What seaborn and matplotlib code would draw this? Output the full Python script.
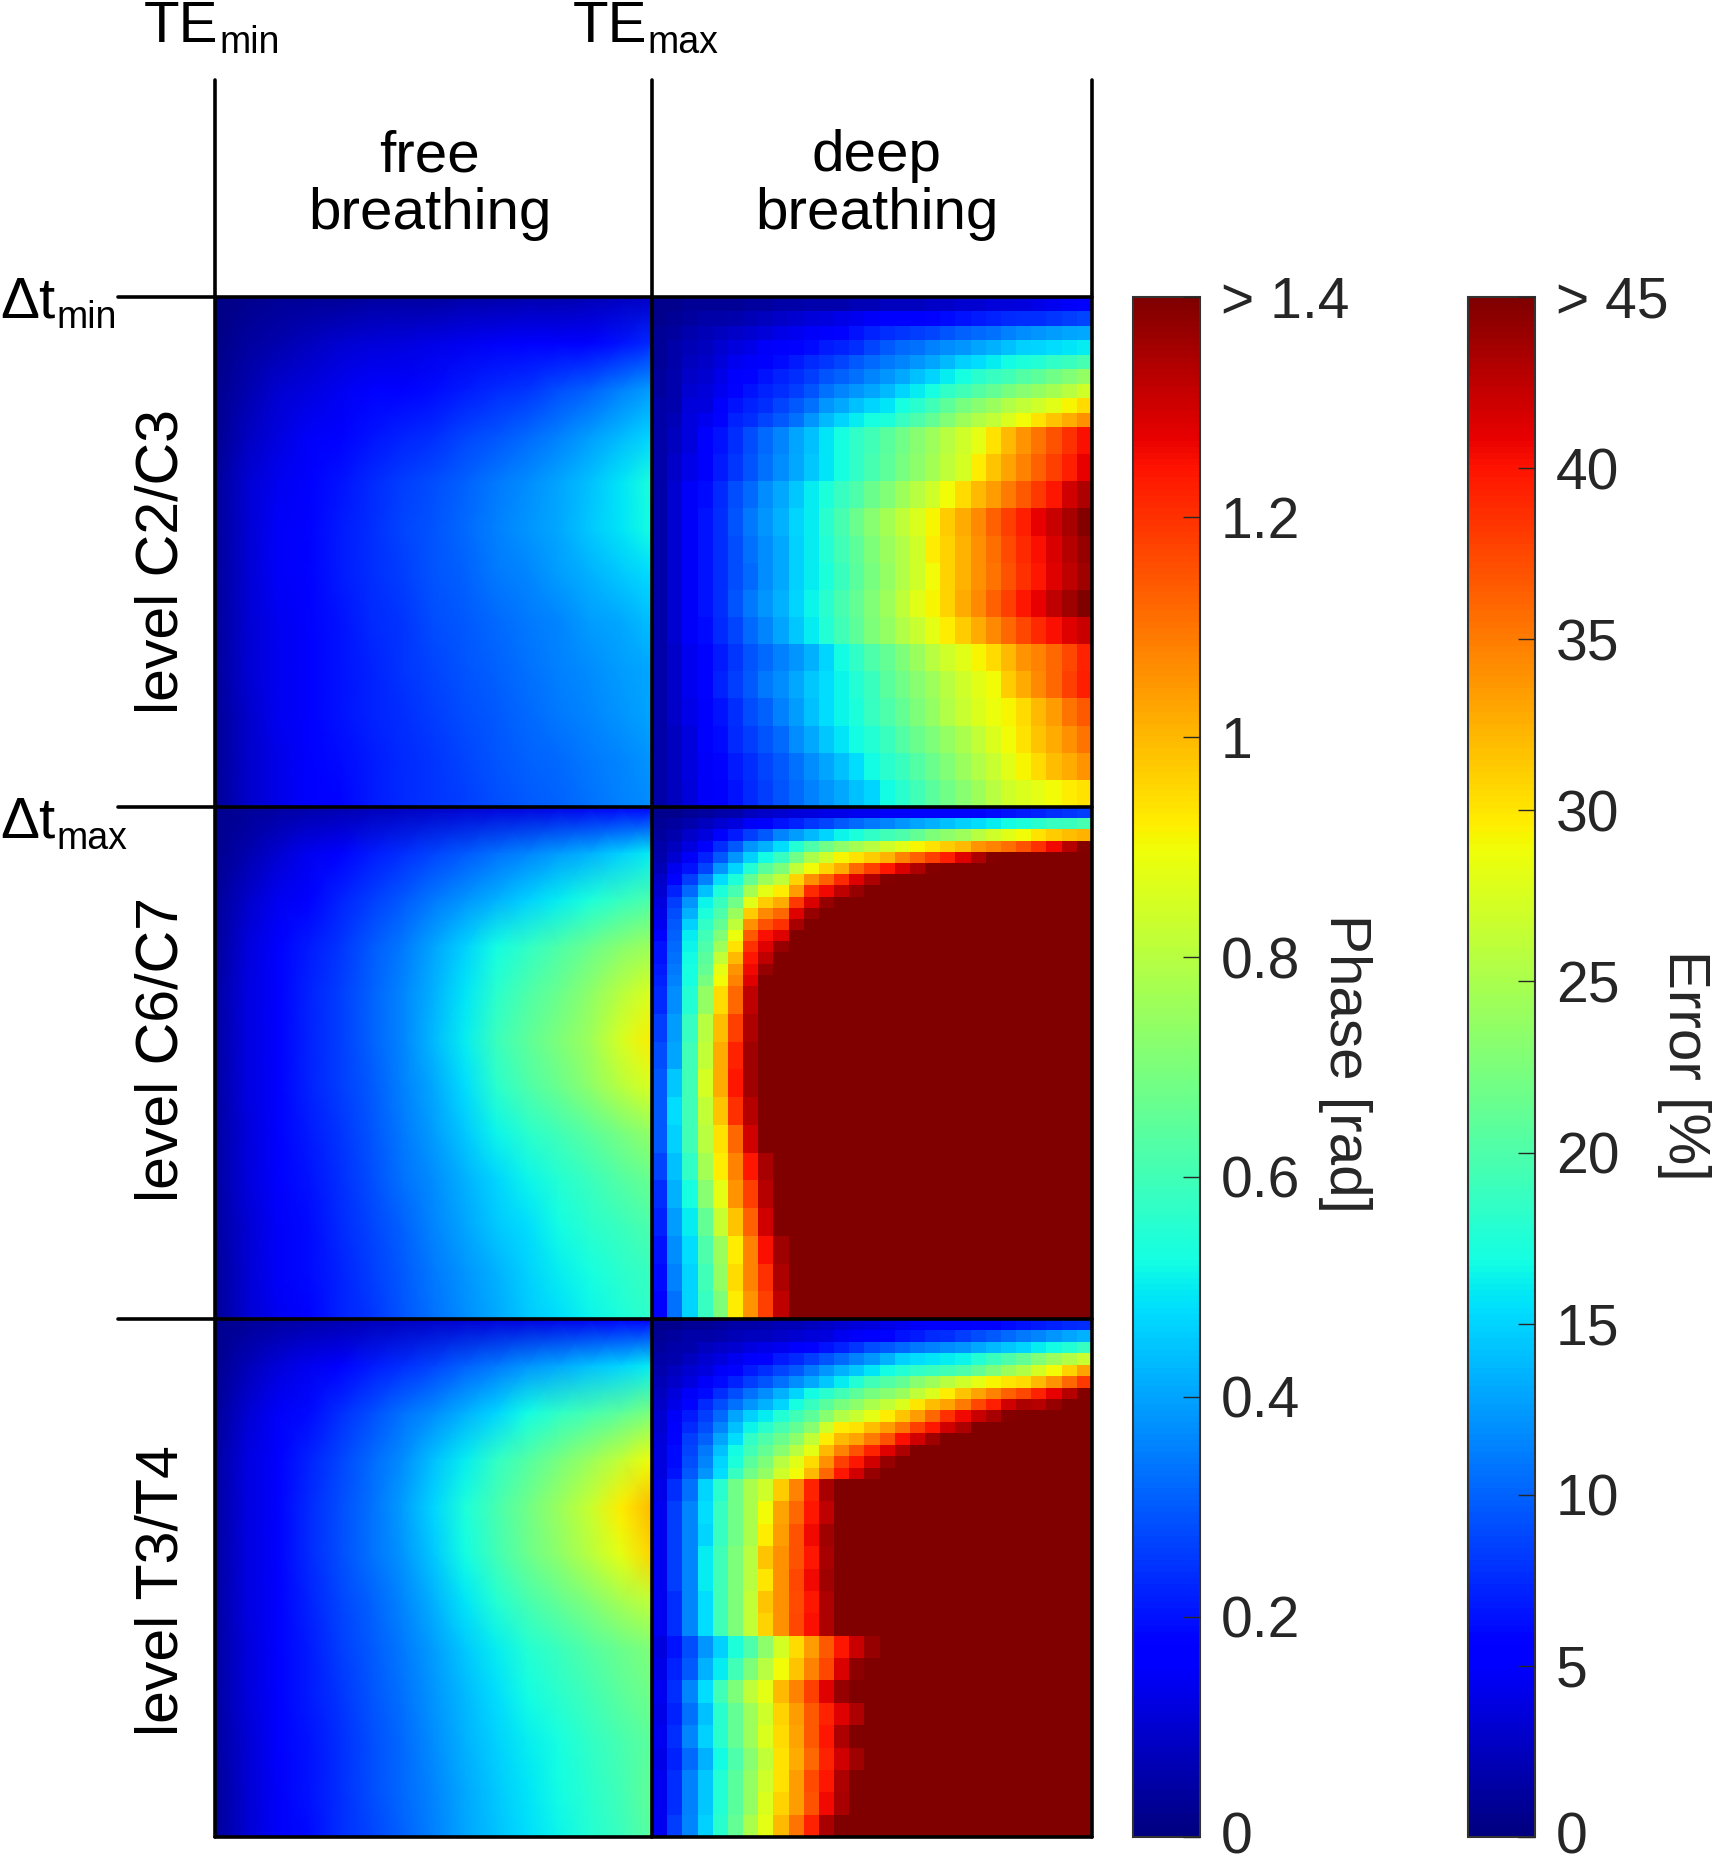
import numpy as np
import matplotlib
matplotlib.use('Agg')
import matplotlib.pyplot as plt
import seaborn as sns
from matplotlib.lines import Line2D
from matplotlib.colors import Normalize
from matplotlib.cm import ScalarMappable
from matplotlib.transforms import ScaledTranslation

# all maps are phase in 1/100 rad (saturates at 140)
VMAX = 140
N_COLS = 29

def sat(row):
    # the rest of the row is the saturated dark red
    return row + [VMAX] * (N_COLS - len(row))

free_c2 = [
    [1,2,3,3,3,4,4,4,5,5,6,6,7,8,9],
    [1,4,6,8,10,11,12,13,14,15,16,17,18,20,23],
    [2,6,10,12,14,16,17,19,21,23,25,28,31,35,39],
    [2,8,12,15,17,20,22,24,27,29,32,35,39,43,47],
    [3,10,14,17,20,23,26,28,31,34,37,40,44,49,54],
    [3,10,15,18,21,24,27,29,32,35,38,41,45,49,53],
    [3,10,15,18,21,24,26,29,31,34,36,39,42,45,48],
    [3,10,14,18,20,23,25,28,30,32,34,36,39,41,44],
    [3,10,14,17,20,22,25,27,29,31,33,35,37,39,41],
    [3,9,14,17,20,22,24,26,28,30,32,34,36,38,40],
    [3,9,13,16,19,21,23,25,27,29,31,32,34,36,38],
    [3,9,13,16,18,21,23,25,26,28,30,31,33,35,37],
]
free_c6 = [
    [2,3,4,5,6,7,8,9,10,11,12,13,14,15,16],
    [2,6,10,14,18,21,24,27,30,33,36,39,42,46,50],
    [3,9,14,18,22,26,30,34,38,42,46,50,54,58,62],
    [3,11,16,21,25,30,34,40,46,52,57,62,67,72,76],
    [4,12,17,22,26,31,36,42,49,56,62,67,73,80,86],
    [4,12,17,22,26,31,36,43,50,59,65,70,76,85,92],
    [4,12,17,22,26,30,35,41,48,56,62,67,73,80,86],
    [4,11,16,21,25,29,34,39,45,51,56,60,64,69,74],
    [4,11,16,20,24,28,33,37,42,47,51,55,59,63,67],
    [4,10,15,19,23,27,31,36,40,45,48,52,56,59,62],
    [3,10,15,19,22,26,30,34,38,42,46,50,53,56,59],
    [3,10,14,18,22,25,29,33,37,41,45,48,51,54,57],
]
free_t3 = [
    [2,3,4,5,6,7,8,9,10,11,12,13,14,15,18],
    [2,7,11,14,18,21,24,27,31,34,38,41,44,47,50],
    [3,10,15,19,24,28,33,37,42,47,52,57,61,65,70],
    [4,12,17,22,27,32,37,44,50,57,63,69,75,82,90],
    [4,12,18,23,28,33,39,47,54,61,68,75,83,92,100],
    [4,12,18,23,28,33,38,45,52,60,67,73,80,88,96],
    [4,12,17,22,27,31,36,42,49,55,61,66,71,77,82],
    [4,11,17,21,26,30,34,39,45,50,55,59,63,67,71],
    [4,11,16,21,25,29,33,38,43,48,52,56,60,64,68],
    [4,10,16,20,24,28,32,37,42,46,50,53,57,61,65],
    [3,10,15,20,24,28,32,36,41,45,49,52,56,60,66],
    [3,10,15,19,24,27,31,35,40,44,48,51,55,59,64],
]

# deep breathing: upper part has thin rows because the front moves fast there
deep_c2_top = [
    [2,2,3,3,3,3,4,4,5,5,6,6,6,7,7,8,8,8,9,9,10,10,11,11,12,13,14,15,16],
    [2,3,4,5,5,6,7,8,9,10,11,12,13,14,15,16,16,17,18,19,20,21,22,23,24,24,25,26,27],
    [3,4,6,7,8,9,10,11,13,14,15,17,18,20,22,24,25,26,27,29,31,32,33,35,37,38,39,40,41],
    [3,5,7,8,10,12,13,15,16,18,19,21,22,24,27,30,32,33,35,37,38,40,42,44,46,47,48,49,50],
    [3,5,8,9,11,14,15,17,19,21,23,25,27,30,32,34,36,38,40,43,46,48,50,52,54,55,57,59,61],
    [4,6,9,10,13,16,18,20,22,24,26,29,31,33,36,38,41,44,47,50,53,56,58,60,63,65,68,71,74],
    [4,6,10,11,14,18,20,22,24,26,29,33,36,38,40,43,47,50,53,57,60,63,66,69,72,74,77,80,84],
    [5,6,11,12,16,20,22,24,27,30,33,38,41,44,47,49,53,56,60,65,69,72,75,79,82,84,87,91,95],
    [5,7,12,14,18,22,24,27,30,33,38,43,47,50,53,54,58,62,66,71,76,79,82,86,90,94,98,102,106],
]
deep_c2_body = [
    [5,8,12,16,20,24,28,32,36,40,44,49,53,57,60,64,68,72,76,80,84,88,94,100,105,110,115,120,125],
    [5,9,13,17,21,25,29,33,37,41,45,49,53,57,61,65,69,73,77,81,85,92,98,103,108,113,118,123,127],
    [5,10,15,19,23,28,32,37,41,45,50,54,58,62,67,71,76,80,84,90,95,100,104,109,114,119,124,130,134],
    [5,10,15,20,24,29,34,38,42,47,50,56,61,67,72,77,81,86,91,97,102,107,113,118,123,127,131,135,139],
    [5,10,15,20,24,28,33,37,41,46,50,55,60,65,70,75,79,84,92,96,101,106,111,116,121,125,129,133,137],
    [5,10,15,20,24,28,32,37,41,46,50,54,59,64,69,74,79,84,90,96,101,106,110,115,120,124,128,132,136],
    [5,10,15,20,24,29,34,38,42,47,51,56,61,66,71,76,81,87,91,96,102,107,113,118,124,127,132,136,140],
    [5,10,15,19,23,27,32,36,40,45,50,55,60,65,70,74,79,83,88,92,97,102,107,112,117,121,125,128,131],
    [5,9,14,18,21,25,29,32,35,38,42,47,52,57,62,66,70,75,80,84,87,91,95,100,105,108,112,117,122],
    [5,9,14,18,22,26,30,34,37,41,45,48,51,55,59,64,68,72,76,80,84,87,90,97,102,107,112,118,123],
    [5,9,13,16,20,24,28,31,35,39,44,48,51,54,58,62,66,70,74,79,83,86,89,91,95,100,104,110,114],
    [5,8,12,16,19,23,26,29,32,37,41,45,49,52,55,59,63,67,70,74,78,82,86,90,94,98,102,106,110],
    [5,8,12,15,18,21,24,27,30,33,37,40,44,48,52,56,59,63,67,71,75,79,83,87,91,95,99,102,105],
    [5,8,11,15,17,20,23,26,29,32,35,38,41,44,47,52,56,60,64,68,72,76,80,84,86,88,90,92,94],
]
deep_c6_top = [
    [2,2,3,4,5,6,8,9,10,11,12,13,13,14,14,15,15,16,16,17,17,18,19,20,21,22,24,25,26],
    [3,4,6,8,10,12,15,17,20,22,25,27,30,32,34,36,38,40,42,44,46,48,50,52,54,56,58,59,61],
    [4,6,9,12,17,21,26,30,36,39,43,47,51,54,57,60,62,66,70,73,76,80,84,87,90,94,97,99,101],
    [5,8,12,17,24,30,38,42,48,55,62,68,73,77,80,84,87,91,94,97,100,105,108,111,115,120,126,133,139],
    sat([6,10,15,22,30,38,46,52,58,68,78,84,91,94,97,101,108,113,118,123,128,134,139]),
    sat([7,14,20,27,38,47,55,64,70,82,90,96,102,112,118,124,129,134,139]),
    sat([9,18,26,35,48,54,66,76,81,96,106,113,121,128,134,139]),
    sat([10,22,32,44,54,61,77,88,92,104,121,126,132,137]),
    sat([12,26,38,51,59,68,87,97,102,119,129,137]),
    sat([13,28,42,54,62,75,97,107,112,128,137]),
    sat([14,30,46,57,66,81,106,115,120,135]),
    sat([18,31,50,60,71,89,114,125,128]),
    sat([20,32,51,62,76,94,120,128,137]),
    sat([20,33,52,64,82,100,124,132]),
    sat([21,34,53,66,88,105,126,137]),
    sat([22,35,53,69,90,108,128]),
]
deep_c6_body = [
    sat([23,37,55,74,95,112,132]),
    sat([26,39,58,80,99,118,134]),
    sat([28,40,60,82,102,122,136]),
    sat([30,45,60,85,102,124,136]),
    sat([30,48,60,82,98,120,133]),
    sat([30,46,60,80,94,112,130]),
    sat([27,44,57,77,92,108,124,135]),
    sat([24,42,53,72,88,105,118,133]),
    sat([22,39,50,66,83,98,113,130]),
    sat([20,37,48,62,75,92,108,125,136]),
    sat([19,35,47,60,74,95,108,120,134]),
    sat([18,33,47,58,70,92,105,118,132]),
]
deep_t3_top = [
    [2,2,3,3,4,5,5,6,7,7,8,9,10,11,12,13,14,15,16,17,17,18,18,19,20,21,22,23,24],
    [3,4,5,5,6,7,8,8,9,10,11,12,14,15,17,18,20,21,23,24,26,28,30,32,34,36,38,40,42],
    [4,5,6,8,9,10,12,13,14,16,18,20,22,25,28,30,32,34,35,37,38,41,43,45,47,50,52,55,58],
    [5,6,8,10,12,14,16,18,21,23,26,29,32,35,38,42,46,48,49,50,51,55,59,62,66,71,75,79,83],
    [6,8,10,12,15,18,21,24,27,30,34,38,42,45,49,52,55,57,59,60,62,66,70,75,79,85,90,96,103],
    [7,9,12,15,19,22,26,29,33,37,41,45,50,55,60,63,66,72,76,80,84,88,91,93,95,100,105,112,119],
    [8,11,15,19,24,28,33,37,42,47,52,56,60,65,69,72,75,81,86,92,98,103,108,113,117,122,127,133,139],
    sat([9,13,18,23,28,33,38,42,47,53,58,64,69,73,78,82,86,93,99,103,109,117,123,130,134,133,137]),
    sat([10,15,21,26,32,40,46,50,55,60,65,72,79,83,88,92,98,104,112,120,126,131,135,139]),
    sat([10,16,23,28,36,44,51,56,61,66,72,84,92,94,99,104,110,118,124,130,134]),
    sat([11,18,26,31,40,48,57,62,67,73,82,92,100,103,109,115,125,130,136]),
    sat([12,19,27,34,44,52,60,66,72,80,88,100,108,115,122,128,134]),
    sat([12,19,28,36,47,54,64,70,80,87,95,106,118,124,130,137]),
    sat([12,20,30,38,48,58,68,74,84,90,100,112,124,130,137]),
]
deep_t3_body = [
    sat([13,24,33,47,56,68,78,84,97,108,122,135]),
    sat([14,26,36,48,58,68,78,90,103,112,124,132]),
    sat([14,26,36,47,58,68,78,92,104,115,126,136]),
    sat([14,26,36,50,60,70,80,98,106,115,124,135]),
    sat([14,26,36,50,60,70,80,93,106,117,126,136]),
    sat([14,24,36,48,60,70,82,98,106,116,124,134]),
    sat([14,24,36,48,60,70,82,96,106,117,125,134]),
    sat([12,20,28,38,46,54,62,73,85,95,104,114,124,131,137]),
    sat([13,22,30,42,50,60,70,80,90,98,108,117,129,138]),
    sat([14,24,36,48,60,70,81,88,100,108,118,128,137]),
    sat([13,22,33,44,56,66,76,84,96,104,114,122,128,134]),
    sat([14,24,36,46,56,66,76,86,95,103,114,124,134]),
    sat([13,22,32,42,52,62,72,82,94,102,112,122,130,136]),
    sat([14,24,35,45,55,64,74,84,94,104,116,124,134]),
    sat([14,24,35,45,55,64,74,86,96,104,115,126,135]),
    sat([14,26,36,46,56,66,78,88,100,110,122,135]),
]

phase_ticks = [0, 0.2, 0.4, 0.6, 0.8, 1, 1.2, 1.4]
phase_labels = ['0', '0.2', '0.4', '0.6', '0.8', '1', '1.2', '> 1.4']
error_ticks = [0, 5, 10, 15, 20, 25, 30, 35, 40, 45]
error_labels = ['0', '5', '10', '15', '20', '25', '30', '35', '40', '> 45']
level_names = ['level C2/C3', 'level C6/C7', 'level T3/T4']

W, H = 1713, 1859
sns.set_theme(style='white')
plt.rcParams['font.family'] = ['Liberation Sans', 'DejaVu Sans']

fig = plt.figure(figsize=(W / 100, H / 100), dpi=100, facecolor='white')

def box(x0, y0, x1, y1):
    return [x0 / W, 1 - y1 / H, (x1 - x0) / W, (y1 - y0) / H]

def put(x, y, s, **kw):
    kw.setdefault('color', 'black')
    kw.setdefault('fontsize', 42)
    return fig.text(x / W, 1 - y / H, s, **kw)

X0, X1, X2 = 215, 652, 1092
Y0, Y1, Y2, Y3 = 297, 807, 1319, 1837

# free breathing is smooth in the reference, so gouraud shading there
for arr, y0, y1 in [(free_c2, Y0, Y1), (free_c6, Y1, Y2), (free_t3, Y2, Y3)]:
    ax = fig.add_axes(box(X0, y0, X1, y1))
    sns.heatmap(np.array(arr), ax=ax, cmap='jet', vmin=0, vmax=VMAX, cbar=False,
                xticklabels=False, yticklabels=False, shading='gouraud')
    ax.set_xlim(0, len(arr[0]) - 1)
    ax.set_ylim(len(arr) - 1, 0)
    ax.axis('off')

deep_parts = [(deep_c2_top, Y0, 427), (deep_c2_body, 427, Y1),
              (deep_c6_top, Y1, 986), (deep_c6_body, 986, Y2),
              (deep_t3_top, Y2, 1479), (deep_t3_body, 1479, Y3)]
for arr, y0, y1 in deep_parts:
    ax = fig.add_axes(box(X1, y0, X2, y1))
    sns.heatmap(np.array(arr), ax=ax, cmap='jet', vmin=0, vmax=VMAX, cbar=False,
                xticklabels=False, yticklabels=False)
    ax.axis('off')

# frame lines
LW = 2.6
for x in [X0, X1, X2]:
    fig.add_artist(Line2D([x / W, x / W], [1 - 80 / H, 1 - Y3 / H], color='black', lw=LW))
for y in [Y0, Y1, Y2]:
    fig.add_artist(Line2D([118 / W, X2 / W], [1 - y / H, 1 - y / H], color='black', lw=LW))
fig.add_artist(Line2D([X0 / W, X2 / W], [1 - Y3 / H, 1 - Y3 / H], color='black', lw=LW))

# colorbars
def add_bar(x0, x1, vmax, ticks, labels):
    cax = fig.add_axes(box(x0, Y0, x1, Y3))
    cb = fig.colorbar(ScalarMappable(Normalize(0, vmax), cmap='jet'), cax=cax)
    cb.set_ticks(ticks)
    cb.set_ticklabels(labels)
    cb.outline.set_edgecolor('#333333')
    cb.outline.set_linewidth(1.5)
    cax.set_axisbelow(False)  # seaborn puts ticks under the colours otherwise
    cax.tick_params(axis='y', direction='in', length=12, width=1.0, color='#262626',
                    labelsize=41, labelcolor='#262626', pad=15, right=True)
    # the 0 label sits right at the bottom edge, lift it a little
    zero = cax.yaxis.get_major_ticks()[0].label2
    zero.set_transform(zero.get_transform() + ScaledTranslation(0, 3 / 72, fig.dpi_scale_trans))
    return cax

add_bar(1133, 1200, 1.4, phase_ticks, phase_labels)
add_bar(1468, 1535, 45, error_ticks, error_labels)

put(1345, 1063, 'Phase [rad]', rotation=270, ha='center', va='center', color='#262626')
put(1684, 1065, 'Error [%]', rotation=270, ha='center', va='center', color='#262626')

# top and left labels
put(144, 42, 'TE', va='baseline')
put(219, 53, 'min', va='baseline', fontsize=27)
put(573, 42, 'TE', va='baseline')
put(647, 53, 'max', va='baseline', fontsize=27)
put(0, 317, 'Δt', va='baseline')
put(56, 328, 'min', va='baseline', fontsize=27)
put(0, 838, 'Δt', va='baseline')
put(56, 849, 'max', va='baseline', fontsize=27)

put(430, 185, 'free\nbreathing', ha='center', va='center', linespacing=1.08)
put(877, 185, 'deep\nbreathing', ha='center', va='center', linespacing=1.08)

for name, y in zip(level_names, [561, 1049, 1591]):
    put(162, y, name, rotation=90, ha='center', va='center', fontsize=42.5)

fig.savefig('out.png', dpi=100)
